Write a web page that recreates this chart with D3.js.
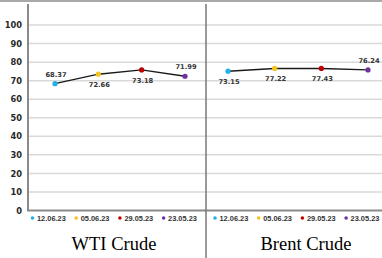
<!DOCTYPE html>
<html>
<head>
<meta charset="utf-8">
<script src="https://cdn.jsdelivr.net/npm/d3@7"></script>
<style>
  body { margin: 0; background: #fff; }
  svg { display: block; }
</style>
</head>
<body>
<div id="chart"></div>
<script>
const dates = ["12.06.23", "05.06.23", "29.05.23", "23.05.23"];
const colors = ["#22b0e6", "#f6c31c", "#c00000", "#7030a0"];
const wtiValues = [68.4, 73.5, 75.8, 72.4];
const wtiLabels = ["68.37", "72.66", "73.18", "71.99"];
const brentValues = [75.1, 76.6, 76.6, 75.8];
const brentLabels = ["73.15", "77.22", "77.43", "76.24"];
const yTicks = [0, 10, 20, 30, 40, 50, 60, 70, 80, 90, 100];

const width = 382, height = 258;
const axisX = 28, divX = 206;

const svg = d3.select("#chart").append("svg")
  .attr("width", width).attr("height", height);

const y = d3.scaleLinear().domain([0, 110]).range([210.5, 6.5]);

// top border
svg.append("line")
  .attr("x1", 0).attr("x2", width).attr("y1", 1).attr("y2", 1)
  .attr("stroke", "#555").attr("stroke-width", 1);

// gridlines
svg.append("g").selectAll("line")
  .data(yTicks.filter(d => d > 0))
  .enter().append("line")
  .attr("x1", axisX).attr("x2", width)
  .attr("y1", d => y(d)).attr("y2", d => y(d))
  .attr("stroke", "#d9d9d9").attr("stroke-width", 1.5);

// y axis
const yAxis = svg.append("g")
  .attr("transform", "translate(" + axisX + ",0)")
  .call(d3.axisLeft(y).tickValues(yTicks).tickSize(0).tickPadding(6));
yAxis.select(".domain").remove();
yAxis.selectAll("text")
  .attr("font-family", "DejaVu Sans").attr("font-weight", "bold")
  .attr("font-size", 8.3).attr("fill", "#2a2a2a");

svg.append("line")
  .attr("x1", axisX).attr("x2", axisX).attr("y1", 4).attr("y2", y(0))
  .attr("stroke", "#8a8a8a").attr("stroke-width", 2);
svg.append("line")
  .attr("x1", axisX - 1).attr("x2", width).attr("y1", y(0)).attr("y2", y(0))
  .attr("stroke", "#8a8a8a").attr("stroke-width", 2);

// divider
svg.append("line")
  .attr("x1", divX).attr("x2", divX).attr("y1", 4).attr("y2", height)
  .attr("stroke", "#777").attr("stroke-width", 1.5);

const panels = [
  {name: "WTI Crude", values: wtiValues, labels: wtiLabels, range: [55, 185],
   above: [true, false, false, true], legendX: 32.5, titleX: 114},
  {name: "Brent Crude", values: brentValues, labels: brentLabels, range: [228, 368],
   above: [false, false, false, true], legendX: 215, titleX: 306}
];

panels.forEach(p => {
  const x = d3.scalePoint().domain(dates).range(p.range);
  const g = svg.append("g");

  const line = d3.line()
    .x((d, i) => x(dates[i]))
    .y(d => y(d));

  g.append("path")
    .attr("d", line(p.values))
    .attr("fill", "none")
    .attr("stroke", "#1a1a1a")
    .attr("stroke-width", 1.4);

  g.selectAll("circle")
    .data(p.values)
    .enter().append("circle")
    .attr("cx", (d, i) => x(dates[i]))
    .attr("cy", d => y(d))
    .attr("r", 2.6)
    .attr("fill", (d, i) => colors[i]);

  g.selectAll(".lbl")
    .data(p.values)
    .enter().append("text")
    .attr("class", "lbl")
    .attr("x", (d, i) => x(dates[i]) + 1)
    .attr("y", (d, i) => p.above[i] ? y(d) - 7 : y(d) + 13)
    .attr("text-anchor", "middle")
    .attr("font-family", "DejaVu Sans")
    .attr("font-weight", "bold")
    .attr("font-size", 6.7)
    .attr("fill", "#333")
    .text((d, i) => p.labels[i]);

  // legend
  const leg = g.selectAll(".leg")
    .data(dates)
    .enter().append("g")
    .attr("class", "leg")
    .attr("transform", (d, i) => "translate(" + (p.legendX + i * 43.7) + ",218)");
  leg.append("circle")
    .attr("r", 1.8)
    .attr("fill", (d, i) => colors[i]);
  leg.append("text")
    .attr("x", 4.5)
    .attr("dy", "0.35em")
    .attr("font-family", "Liberation Sans")
    .attr("font-weight", "bold")
    .attr("font-size", 7.4)
    .attr("fill", "#333")
    .text(d => d);

  g.append("text")
    .attr("x", p.titleX)
    .attr("y", 249.5)
    .attr("text-anchor", "middle")
    .attr("font-family", "Liberation Serif")
    .attr("font-size", 18.5)
    .attr("fill", "#000")
    .text(p.name);
});
</script>
</body>
</html>
